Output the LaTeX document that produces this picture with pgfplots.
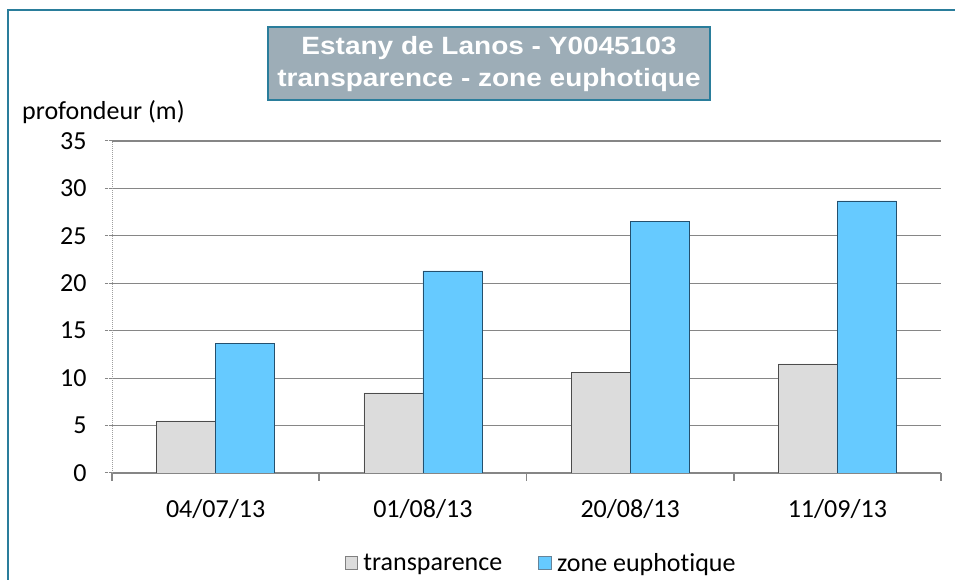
\documentclass[border=0pt]{standalone}
\usepackage{pgfplots}
\pgfplotsset{compat=1.18}
\usepackage{fontspec}
\setmainfont{Carlito}[Ligatures=NoCommon]
\newfontfamily\titlefont{Liberation Sans}[FakeStretch=1.12]

\definecolor{barGrey}{HTML}{DCDCDC}
\definecolor{barBlue}{HTML}{66CAFF}
\definecolor{blueEdge}{HTML}{24506E}
\definecolor{frameTeal}{HTML}{2A7D9B}
\definecolor{titleFill}{HTML}{9DADB7}
\definecolor{gridGrey}{HTML}{868686}

\begin{document}
\begin{tikzpicture}[x=1pt,y=1pt]
\useasboundingbox (0,0) rectangle (955,580);
\fill[white] (0,0) rectangle (955,580);
\draw[frameTeal, line width=2pt] (8,-5) -- (8,570) -- (960,570);

\begin{axis}[
    at={(112pt,107pt)}, anchor=south west,
    scale only axis, width=829pt, height=332pt,
    ymin=0, ymax=35, ytick={0,5,...,35},
    xmin=-0.5, xmax=3.5,
    xtick={0,1,2,3},
    xticklabels={04/07/13,01/08/13,20/08/13,11/09/13},
    minor xtick={-0.5,0.5,1.5,2.5,3.5},
    axis lines=left, axis line style={-},
    tick align=outside,
    major tick length=7pt, minor tick length=8pt,
    major x tick style={draw=none},
    minor x tick style={gridGrey, line width=1.6pt, solid},
    ytick style={gridGrey, densely dotted, line width=1pt},
    x axis line style={gridGrey, line width=1.6pt},
    y axis line style={gridGrey!80, densely dotted, line width=1pt},
    ymajorgrids, grid style={gridGrey, line width=1.2pt, solid},
    tick label style={font=\fontsize{26}{30}\selectfont},
    /pgf/number format/assume math mode=true,
    yticklabel style={xshift=-15pt},
    xticklabel style={yshift=-16pt},
    ybar, bar width=0.285,
    legend style={at={(0.52,-0.271)}, anchor=center, draw=none,
        fill=none, legend columns=2, font=\fontsize{26}{30}\selectfont,
        nodes={inner xsep=6pt},
        /tikz/every even column/.append style={column sep=30pt}},
]
\addplot[fill=barGrey, draw=black!70, bar shift=-0.1425,
    legend image code/.code={\draw[fill=barGrey, draw=black!50] (0pt,-6.5pt) rectangle (12.5pt,6.5pt);}]
    coordinates {(0,5.5) (1,8.45) (2,10.6) (3,11.5)};
\addplot[fill=barBlue, draw=blueEdge, bar shift=0.1425,
    legend image code/.code={\draw[fill=barBlue, draw=blueEdge!70] (0pt,-6.5pt) rectangle (12.5pt,6.5pt);}]
    coordinates {(0,13.7) (1,21.3) (2,26.5) (3,28.7)};
\legend{transparence, zone euphotique}
\end{axis}

\node[anchor=base west, inner sep=0pt, font=\fontsize{26}{30}\selectfont] at (22,460) {profondeur (m)};
\node[fill=titleFill, draw=frameTeal, line width=2pt, minimum width=442pt,
    minimum height=73pt, align=center, text=white,
    font=\titlefont\bfseries\fontsize{25}{32}\selectfont]
    at (489,516) {Estany de Lanos - Y0045103\\transparence - zone euphotique};
\end{tikzpicture}
\end{document}
